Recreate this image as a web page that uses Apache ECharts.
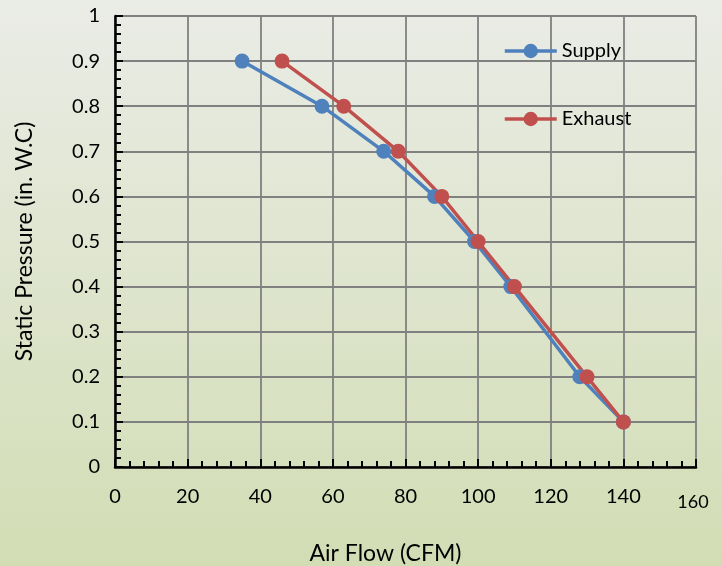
<!DOCTYPE html>
<html><head><meta charset="utf-8">
<script src="https://cdn.jsdelivr.net/npm/echarts@6/dist/echarts.min.js"></script>
<style>html,body{margin:0;padding:0;}#c{width:722px;height:566px;}</style>
</head><body><div id="c"></div>
<script>
const supplyFlow = [35, 57, 74, 88, 99, 109, 128, 140];
const supplyPressure = [0.9, 0.8, 0.7, 0.6, 0.5, 0.4, 0.2, 0.1];
const exhaustFlow = [46, 63, 78, 90, 100, 110, 130, 140];
const exhaustPressure = [0.9, 0.8, 0.7, 0.6, 0.5, 0.4, 0.2, 0.1];
const seriesNames = ['Supply', 'Exhaust'];
const xTitle = 'Air Flow (CFM)';
const yTitle = 'Static Pressure (in. W.C)';

const FONT = 'Lato';
const chart = echarts.init(document.getElementById('c'));
chart.setOption({
  animation: false,
  backgroundColor: {type: 'linear', x: 0, y: 0, x2: 0, y2: 1,
    colorStops: [{offset: 0, color: '#eaece6'}, {offset: 1, color: '#d2ddb4'}]},
  textStyle: {fontFamily: FONT},
  grid: {left: 115, right: 26, top: 16, bottom: 99, containLabel: false, outerBoundsMode: 'none'},
  legend: {
    orient: 'vertical', left: 503, top: 41, padding: 0, itemWidth: 52, itemHeight: 18, itemGap: 48,
    lineStyle: {width: 3.5},
    textStyle: {fontFamily: FONT, fontSize: 20, color: '#000'},
    data: seriesNames
  },
  xAxis: {
    type: 'value', min: 0, max: 160, interval: 20,
    name: xTitle, nameLocation: 'middle', nameGap: 75,
    nameTextStyle: {fontFamily: FONT, fontSize: 23, color: '#000', padding: [0, 40, 0, 0]},
    axisLine: {show: true, onZero: false, lineStyle: {color: '#000', width: 2.5}},
    axisTick: {show: true, inside: true, length: 8, lineStyle: {color: '#000', width: 2}},
    minorTick: {show: true, splitNumber: 5, length: 6, lineStyle: {color: '#000', width: 2}},
    axisLabel: {margin: 20, fontSize: 20, color: '#000', fontFamily: FONT,
      formatter: v => v === 160 ? '{s|160}' : String(v),
      rich: {s: {fontSize: 18, padding: [6, 6, 0, 0], fontFamily: FONT, color: '#000'}}},
    splitLine: {show: true, lineStyle: {color: '#808080', width: 1.8}},
    minorSplitLine: {show: false}
  },
  yAxis: {
    type: 'value', min: 0, max: 1, interval: 0.1,
    name: yTitle, nameLocation: 'middle', nameGap: 79,
    nameTextStyle: {fontFamily: FONT, fontSize: 23, color: '#000'},
    axisLine: {show: true, onZero: false, lineStyle: {color: '#000', width: 2.5}},
    axisTick: {show: true, inside: true, length: 8, lineStyle: {color: '#000', width: 2}},
    minorTick: {show: true, splitNumber: 5, length: 6, lineStyle: {color: '#000', width: 2}},
    axisLabel: {margin: 15, fontSize: 20, color: '#000', fontFamily: FONT,
      formatter: v => String(Math.round(v * 10) / 10)},
    splitLine: {show: true, lineStyle: {color: '#808080', width: 1.8}}
  },
  series: [
    {name: seriesNames[0], type: 'line', data: supplyFlow.map((x, i) => [x, supplyPressure[i]]),
     symbol: 'circle', symbolSize: 15, color: '#4f81bd',
     lineStyle: {width: 3.5, color: '#4f81bd'}, itemStyle: {color: '#4f81bd'}},
    {name: seriesNames[1], type: 'line', data: exhaustFlow.map((x, i) => [x, exhaustPressure[i]]),
     symbol: 'circle', symbolSize: 15, color: '#c0504d',
     lineStyle: {width: 3.5, color: '#c0504d'}, itemStyle: {color: '#c0504d'}}
  ]
});
</script></body></html>
